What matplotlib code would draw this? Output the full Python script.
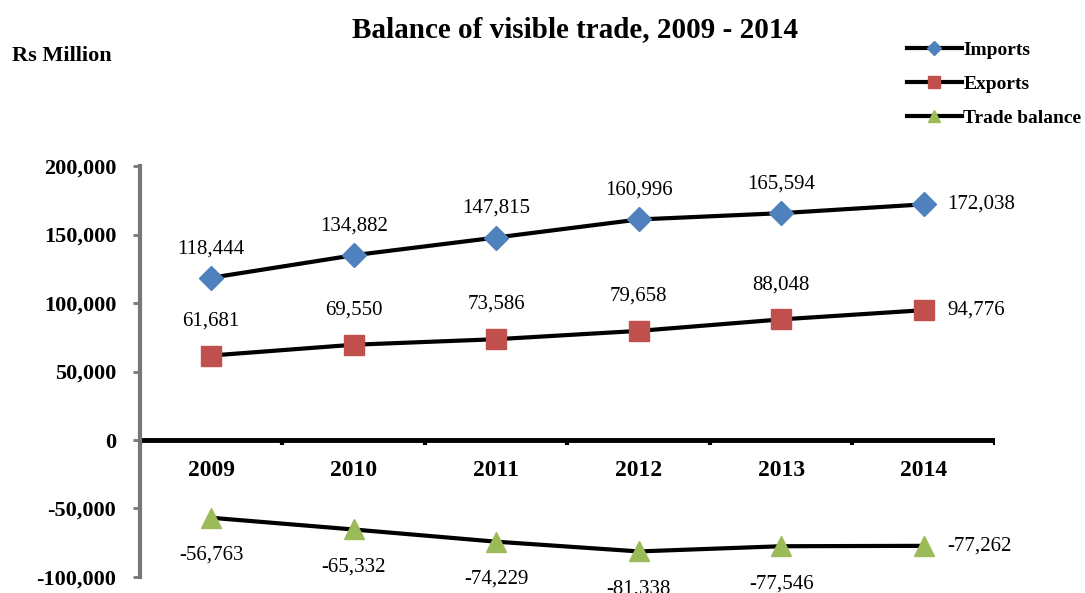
import numpy as np
import matplotlib.pyplot as plt

years = ["2009", "2010", "2011", "2012", "2013", "2014"]
imports = [118444, 134882, 147815, 160996, 165594, 172038]
exports = [61681, 69550, 73586, 79658, 88048, 94776]
trade_balance = [-56763, -65332, -74229, -81338, -77546, -77262]

plt.rcParams["font.family"] = ["Liberation Serif", "DejaVu Serif"]

fig = plt.figure(figsize=(10.85, 5.93), dpi=100)
ax = fig.add_axes([0.129, 0.027, 0.788, 0.693])

x = np.arange(len(years))
series = [
    ("Imports", imports, "D", "#4F81BD", 12, 21),
    ("Exports", exports, "s", "#C0504D", 14, 25),
    ("Trade balance", trade_balance, "^", "#9BBB59", 14, -27),
]
for name, vals, mk, col, ms, off in series:
    ax.plot(x, vals, color="black", lw=3, marker=mk, markersize=ms,
            markerfacecolor=col, markeredgecolor=col, label=name, zorder=3)
    for i, v in enumerate(vals):
        lab = f"{v:,}"
        if i == len(vals) - 1:
            ax.annotate(lab, (x[i], v), xytext=(17, 0), textcoords="offset points",
                        ha="left", va="center", fontsize=15)
        else:
            ax.annotate(lab, (x[i], v), xytext=(0, off), textcoords="offset points",
                        ha="center", va="center", fontsize=15)

ax.set_xlim(-0.5, 5.5)
ax.set_ylim(-100000, 200000)
yt = np.arange(-100000, 200001, 50000)
ax.set_yticks(yt)
ax.set_yticklabels([f"{v:,}" for v in yt], fontsize=16, fontweight="bold")
ax.tick_params(axis="y", length=5, width=2, color="#777777", pad=12)

for s in ["top", "right", "bottom"]:
    ax.spines[s].set_visible(False)
ax.spines["left"].set_color("#777777")
ax.spines["left"].set_linewidth(3)

# x axis drawn at zero with boundary ticks
ax.axhline(0, color="black", lw=3.5, zorder=2)
ax.set_xticks([])
for b in np.arange(-0.5, 6.0, 1.0):
    ax.plot([b, b], [0, -3500], color="black", lw=3, zorder=2, solid_capstyle="butt")
for i, yr in enumerate(years):
    ax.text(x[i], -22000, yr, ha="center", va="center", fontsize=17, fontweight="bold")

fig.text(0.53, 0.95, "Balance of visible trade, 2009 - 2014", ha="center", va="center",
         fontsize=21, fontweight="bold")
fig.text(0.011, 0.905, "Rs Million", ha="left", va="center", fontsize=16, fontweight="bold")

leg = fig.legend(loc="upper right", bbox_to_anchor=(1.013, 0.96), frameon=False,
                 handlelength=2.8, handletextpad=0.1, labelspacing=0.85,
                 markerscale=0.6, prop={"weight": "bold", "size": 14})

fig.savefig("out.png", dpi=100)
